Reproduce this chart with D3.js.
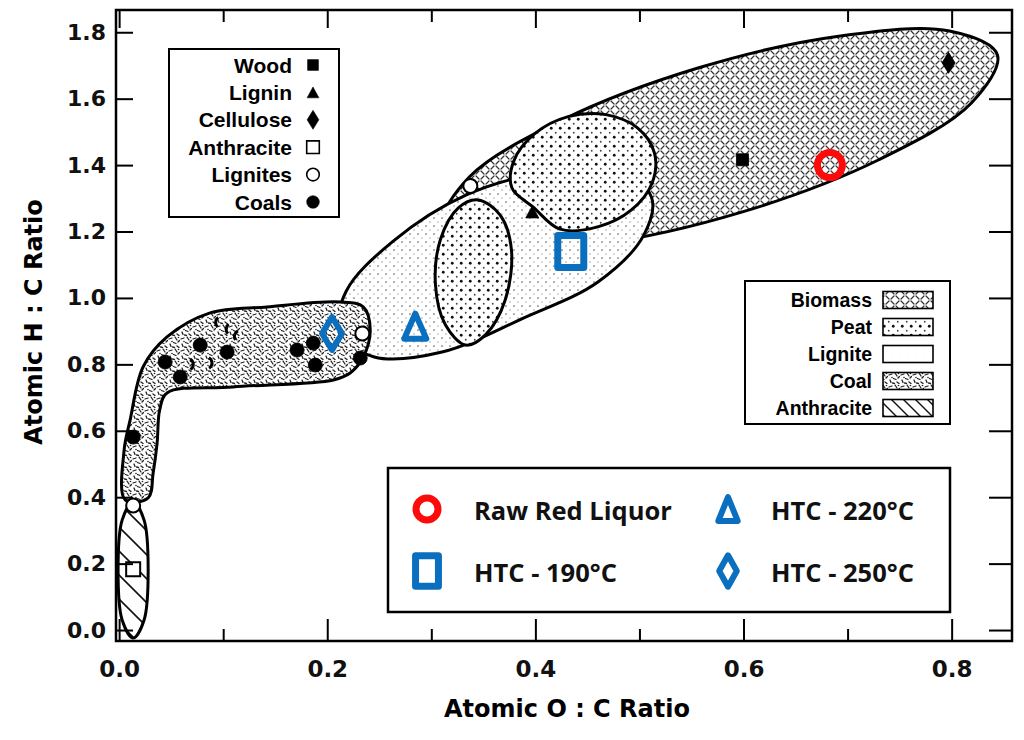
<!DOCTYPE html>
<html>
<head>
<meta charset="utf-8">
<title>Van Krevelen diagram</title>
<script src="https://cdn.jsdelivr.net/npm/d3@7"></script>
<style>
  body { margin: 0; background: #fff; }
  svg { display: block; }
  .tick text { font-family: "DejaVu Sans", sans-serif; font-weight: bold; fill: #111; }
</style>
</head>
<body>
<svg id="chart" width="1024" height="740"></svg>
<script>
// reference materials, [O:C, H:C]
const woodPts = [[0.599, 1.416]];
const ligninPts = [[0.397, 1.259]];
const cellulosePts = [[0.797, 1.708]];
const anthracitePts = [[0.0135, 0.183]];
const lignitePts = [[0.3375, 1.337], [0.2337, 0.893], [0.0135, 0.375]];
const coalPts = [[0.0135, 0.581], [0.0442, 0.807], [0.0587, 0.762], [0.0779, 0.858],
                 [0.1038, 0.837], [0.171, 0.843], [0.1865, 0.864], [0.1885, 0.798], [0.2317, 0.819]];
// partly drawn coal marks: [O:C, H:C, start angle, end angle]
const coalArcs = [[0.0985, 0.926, -2.4, -0.6], [0.1085, 0.906, -2.4, -0.6], [0.1165, 0.884, -2.2, -0.4],
                  [0.0655, 0.800, 0.5, 2.6], [0.0835, 0.804, 0.5, 2.6]];

// this work
const rawRed = [0.683, 1.400];
const htc190 = [0.434, 1.140];
const htc220 = [0.2846, 0.915];
const htc250 = [0.2046, 0.893];

// axis ticks
const xTicks = [0, 0.2, 0.4, 0.6, 0.8];
const xMinor = [0.1, 0.3, 0.5, 0.7];
const yTicks = [0, 0.2, 0.4, 0.6, 0.8, 1.0, 1.2, 1.4, 1.6, 1.8];

// region outlines, [O:C, H:C]
const biomassOutline = [[0.844, 1.732], [0.819, 1.587], [0.730, 1.416], [0.599, 1.259], [0.4625, 1.163],
  [0.358, 1.148], [0.3115, 1.220], [0.3365, 1.364], [0.426, 1.536], [0.557, 1.693], [0.693, 1.789], [0.798, 1.804]];
const peatOutlineA = [[0.5144, 1.437], [0.5123, 1.347], [0.4923, 1.265], [0.4599, 1.214], [0.4237, 1.207],
  [0.3977, 1.274], [0.3775, 1.331], [0.3792, 1.412], [0.3991, 1.494], [0.4315, 1.546], [0.4677, 1.552], [0.4981, 1.512]];
const peatOutlineB = [[0.345, 1.295], [0.366, 1.250], [0.377, 1.145], [0.371, 0.994], [0.352, 0.889],
  [0.333, 0.858], [0.3135, 0.919], [0.304, 1.039], [0.3087, 1.175], [0.326, 1.271]];
const ligniteOutline = [[0.5115, 1.304], [0.5043, 1.190], [0.4601, 1.048], [0.389, 0.940], [0.3103, 0.837],
  [0.2452, 0.8223], [0.2115, 0.8946], [0.2183, 1.021], [0.2625, 1.1687], [0.3337, 1.310], [0.4125, 1.3795], [0.478, 1.3855]];
const coalOutline = [[0.0058, 0.392], [0.0048, 0.542], [0.0106, 0.633], [0.023, 0.792], [0.046, 0.8825],
  [0.0875, 0.955], [0.142, 0.973], [0.2125, 0.988], [0.2346, 0.973], [0.2413, 0.904], [0.2346, 0.822],
  [0.222, 0.774], [0.206, 0.753], [0.1096, 0.732], [0.046, 0.714], [0.039, 0.663], [0.0365, 0.563],
  [0.0327, 0.473], [0.0279, 0.398]];
const anthraciteOutline = [[0.0135, 0.3855], [0.024, 0.331], [0.0279, 0.1807], [0.024, 0.030],
  [0.0135, -0.024], [0.0029, 0.030], [-0.001, 0.1807], [0.0029, 0.331]];

const sampleLegend = ["Wood", "Lignin", "Cellulose", "Anthracite", "Lignites", "Coals"];
const regionLegend = ["Biomass", "Peat", "Lignite", "Coal", "Anthracite"];
const htcLegend = ["Raw Red Liquor", "HTC - 190°C", "HTC - 220°C", "HTC - 250°C"];

const BLUE = "#0b6fbf", RED = "#ff0a0a";

const svg = d3.select("#chart");
const x = d3.scaleLinear().domain([-0.003, 0.858]).range([116, 1012]);
const y = d3.scaleLinear().domain([-0.033, 1.867]).range([641, 10]);

// fill patterns
const defs = svg.append("defs");
function pattern(id, size, draw) {
  const p = defs.append("pattern").attr("id", id).attr("patternUnits", "userSpaceOnUse")
    .attr("width", size).attr("height", size);
  p.append("rect").attr("width", size).attr("height", size).attr("fill", "#fff");
  draw(p);
}
pattern("pBiomass", 10, p => p.append("path")
  .attr("d", "M1,1L4,4M6,4L9,1M1,9L4,6M6,6L9,9")
  .attr("stroke", "#333").attr("stroke-width", 1.2).attr("stroke-linecap", "round"));
pattern("pPeat", 9, p => {
  p.append("circle").attr("cx", 2.25).attr("cy", 2.25).attr("r", 1.4).attr("fill", "#111");
  p.append("circle").attr("cx", 6.75).attr("cy", 6.75).attr("r", 0.9).attr("fill", "#444");
});
pattern("pLignite", 8, p => {
  p.append("circle").attr("cx", 2).attr("cy", 2).attr("r", 0.85).attr("fill", "#666");
  p.append("circle").attr("cx", 6).attr("cy", 6).attr("r", 0.65).attr("fill", "#888");
});
pattern("pLigniteKey", 8, p => {
  p.append("circle").attr("cx", 4).attr("cy", 4).attr("r", 0.3).attr("fill", "#bbb");
});
pattern("pCoal", 12, p => {
  p.append("path")
    .attr("d", "M1,3L4,2M7,1L9,4M10,6L11.5,4.5M2,8L3,10.5M5.5,6.5L8,7.5M9,10L11,11.5M4.5,11L6.5,11.5")
    .attr("stroke", "#222").attr("stroke-width", 1.3).attr("stroke-linecap", "round");
  p.append("circle").attr("cx", 10.5).attr("cy", 1.5).attr("r", 0.8).attr("fill", "#222");
  p.append("circle").attr("cx", 4).attr("cy", 5.5).attr("r", 0.8).attr("fill", "#222");
});
pattern("pAnthracite", 24, p => p.append("path")
  .attr("d", "M0,0L24,24M-2,22L2,26M22,-2L26,2")
  .attr("stroke", "#111").attr("stroke-width", 1.6));
pattern("pAnthraciteKey", 12, p => p.append("path")
  .attr("d", "M0,0L12,12M-2,10L2,14M10,-2L14,2")
  .attr("stroke", "#111").attr("stroke-width", 1.4));

// regions
const outline = d3.line().x(d => x(d[0])).y(d => y(d[1])).curve(d3.curveCatmullRomClosed.alpha(0.5));
const regions = [
  [biomassOutline, "pBiomass"],
  [ligniteOutline, "pLignite"],
  [peatOutlineA, "pPeat"],
  [peatOutlineB, "pPeat"],
  [coalOutline, "pCoal"],
  [anthraciteOutline, "pAnthracite"]
];
svg.append("g").selectAll("path").data(regions).join("path")
  .attr("d", d => outline(d[0]))
  .attr("fill", d => `url(#${d[1]})`)
  .attr("stroke", "#000").attr("stroke-width", 3).attr("stroke-linejoin", "round");

// reference markers
function shape(kind, w, h) {
  if (kind === "square") return `M${-w/2},${-h/2}H${w/2}V${h/2}H${-w/2}Z`;
  if (kind === "triangle") return `M0,${-h/2}L${w/2},${h/2}L${-w/2},${h/2}Z`;
  if (kind === "diamond") return `M0,${-h/2}L${w/2},0L0,${h/2}L${-w/2},0Z`;
  return d3.arc()({innerRadius: 0, outerRadius: w / 2, startAngle: 0, endAngle: 2 * Math.PI});
}
const refStyles = {
  Wood: {kind: "square", w: 12, h: 12, fill: "#000"},
  Lignin: {kind: "triangle", w: 13, h: 12, fill: "#000"},
  Cellulose: {kind: "diamond", w: 13, h: 21, fill: "#000"},
  Anthracite: {kind: "square", w: 14, h: 14, fill: "#fff"},
  Lignites: {kind: "circle", w: 14, h: 14, fill: "#fff"},
  Coals: {kind: "circle", w: 14, h: 14, fill: "#000"}
};
const refSets = [["Wood", woodPts], ["Lignin", ligninPts], ["Cellulose", cellulosePts],
                 ["Anthracite", anthracitePts], ["Lignites", lignitePts], ["Coals", coalPts]];
const gRef = svg.append("g");
refSets.forEach(([name, pts]) => {
  const s = refStyles[name];
  gRef.selectAll(null).data(pts).join("path")
    .attr("transform", d => `translate(${x(d[0])},${y(d[1])})`)
    .attr("d", shape(s.kind, s.w, s.h))
    .attr("fill", s.fill).attr("stroke", "#000").attr("stroke-width", s.fill === "#fff" ? 2 : 0.8);
});
gRef.selectAll(null).data(coalArcs).join("path")
  .attr("transform", d => `translate(${x(d[0])},${y(d[1])})`)
  .attr("d", d => d3.arc()({innerRadius: 4.5, outerRadius: 7.5, startAngle: d[2], endAngle: d[3]}))
  .attr("fill", "#000");

// frame and axes
svg.append("rect").attr("x", x.range()[0]).attr("y", y.range()[1])
  .attr("width", x.range()[1] - x.range()[0]).attr("height", y.range()[0] - y.range()[1])
  .attr("fill", "none").attr("stroke", "#000").attr("stroke-width", 2.5);

function axis(gen, tx, ty, fontSize) {
  const g = svg.append("g").attr("transform", `translate(${tx},${ty})`).call(gen);
  g.select(".domain").remove();
  g.selectAll(".tick line").attr("stroke", "#000").attr("stroke-width", 2);
  g.selectAll(".tick text").style("font-size", fontSize + "px");
  return g;
}
const fmt = d3.format(".1f");
axis(d3.axisBottom(x).tickValues(xTicks).tickSize(-22).tickPadding(20).tickFormat(fmt), 0, 641, 23);
axis(d3.axisBottom(x).tickValues(xMinor).tickSize(-12).tickFormat(""), 0, 641, 0);
axis(d3.axisTop(x).tickValues(xTicks).tickSize(-18).tickFormat(""), 0, 10, 0);
axis(d3.axisTop(x).tickValues(xMinor).tickSize(-12).tickFormat(""), 0, 10, 0);
axis(d3.axisLeft(y).tickValues(yTicks).tickSize(-17).tickPadding(10).tickFormat(fmt), 116, 0, 22);
axis(d3.axisRight(y).tickValues(yTicks).tickSize(-23).tickFormat(""), 1012, 0, 0);

svg.append("text").attr("x", 567).attr("y", 717).attr("text-anchor", "middle")
  .style("font-family", "'DejaVu Sans', sans-serif").style("font-weight", "bold").style("font-size", "24px")
  .text("Atomic O : C Ratio");
svg.append("text").attr("transform", "translate(42,322) rotate(-90)").attr("text-anchor", "middle")
  .style("font-family", "'DejaVu Sans', sans-serif").style("font-weight", "bold").style("font-size", "24px")
  .text("Atomic H : C Ratio");

// legend: reference materials
const lg1 = svg.append("g");
lg1.append("rect").attr("x", 169).attr("y", 49).attr("width", 170).attr("height", 168)
  .attr("fill", "#fff").attr("stroke", "#000").attr("stroke-width", 2);
sampleLegend.forEach((name, i) => {
  const cy = 65 + i * 27.4, s = refStyles[name];
  lg1.append("text").attr("x", 292).attr("y", cy).attr("dy", "0.36em").attr("text-anchor", "end")
    .style("font-family", "'Liberation Sans', Arial, sans-serif").style("font-weight", "bold")
    .style("font-size", "21px").text(name);
  lg1.append("path").attr("transform", `translate(313,${cy})`)
    .attr("d", shape(s.kind, s.w * 0.9, s.h * 0.9))
    .attr("fill", s.fill).attr("stroke", "#000").attr("stroke-width", s.fill === "#fff" ? 1.6 : 0.6);
});

// legend: regions
const regionFill = {Biomass: "pBiomass", Peat: "pPeat", Lignite: "pLigniteKey", Coal: "pCoal", Anthracite: "pAnthraciteKey"};
const lg2 = svg.append("g");
lg2.append("rect").attr("x", 745).attr("y", 281).attr("width", 205).attr("height", 143)
  .attr("fill", "#fff").attr("stroke", "#000").attr("stroke-width", 2);
regionLegend.forEach((name, i) => {
  const cy = 300 + i * 27;
  lg2.append("text").attr("x", 872).attr("y", cy).attr("dy", "0.36em").attr("text-anchor", "end")
    .style("font-family", "'Liberation Sans', Arial, sans-serif").style("font-weight", "bold")
    .style("font-size", "19.5px").text(name);
  lg2.append("rect").attr("x", 883).attr("y", cy - 8.5).attr("width", 50).attr("height", 17)
    .attr("fill", `url(#${regionFill[name]})`).attr("stroke", "#000").attr("stroke-width", 1.6);
});

// this work markers
const htcStyles = [
  {pt: rawRed, kind: "circle", w: 25, h: 25, sw: 7, color: RED},
  {pt: htc190, kind: "square", w: 26, h: 32, sw: 7, color: BLUE},
  {pt: htc220, kind: "triangle", w: 22, h: 25, sw: 6, color: BLUE},
  {pt: htc250, kind: "diamond", w: 20, h: 33, sw: 6, color: BLUE}
];
svg.append("g").selectAll("path").data(htcStyles).join("path")
  .attr("transform", d => `translate(${x(d.pt[0])},${y(d.pt[1])})`)
  .attr("d", d => shape(d.kind, d.w, d.h))
  .attr("fill", "none").attr("stroke", d => d.color).attr("stroke-width", d => d.sw)
  .attr("stroke-linejoin", "round");

// legend: this work
const lg3 = svg.append("g");
lg3.append("rect").attr("x", 388).attr("y", 468).attr("width", 562).attr("height", 144)
  .attr("fill", "#fff").attr("stroke", "#000").attr("stroke-width", 2.5);
const colMark = [427, 728], colText = [474, 771], rowY = [509, 571];
htcLegend.forEach((name, i) => {
  const col = i < 2 ? 0 : 1, row = i % 2, s = htcStyles[i];
  lg3.append("path").attr("transform", `translate(${colMark[col]},${rowY[row]})`)
    .attr("d", shape(s.kind, s.w * 0.88, s.h * 0.95))
    .attr("fill", "none").attr("stroke", s.color).attr("stroke-width", s.sw)
    .attr("stroke-linejoin", "round");
  lg3.append("text").attr("x", colText[col]).attr("y", rowY[row] + 2).attr("dy", "0.36em")
    .style("font-family", "'Open Sans', sans-serif").style("font-weight", "bold")
    .style("font-size", "25.5px").style("fill", "#111").text(name);
});
</script>
</body>
</html>
